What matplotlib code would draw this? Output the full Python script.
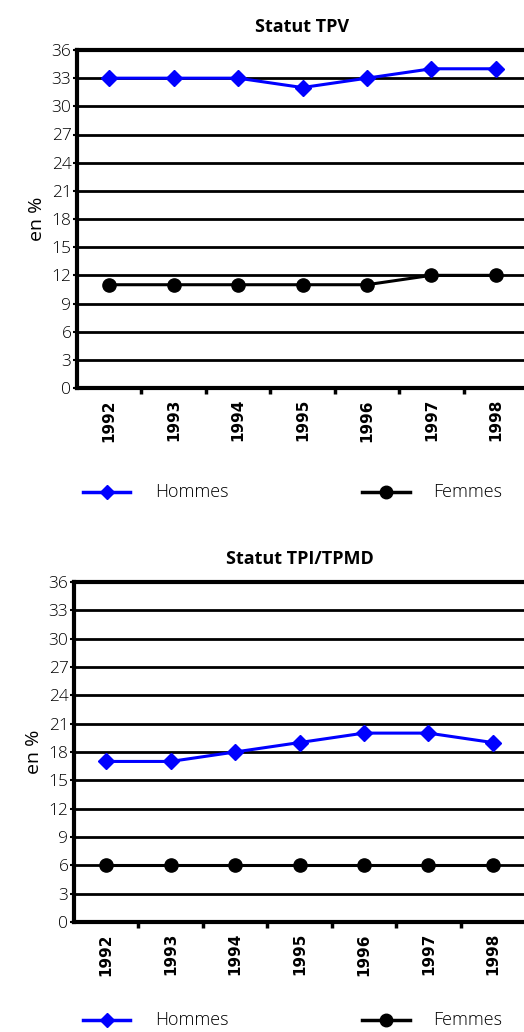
import matplotlib
matplotlib.use('Agg')
import matplotlib.pyplot as plt
from matplotlib.lines import Line2D

plt.rcParams['font.family'] = ['Open Sans', 'DejaVu Sans']

YEARS = ['1992', '1993', '1994', '1995', '1996', '1997', '1998']

TPV_HOMMES = [33, 33, 33, 32, 33, 34, 34]
TPV_FEMMES = [11, 11, 11, 11, 11, 12, 12]

TPI_HOMMES = [17, 17, 18, 19, 20, 20, 19]
TPI_FEMMES = [6, 6, 6, 6, 6, 6, 6]

Y_TICKS = list(range(0, 37, 3))

W, H = 524, 1032


def box(left, top, right, bottom):
    # pixel box -> figure fraction
    return [left / W, 1 - bottom / H, (right - left) / W, (bottom - top) / H]


def draw_panel(fig, rect, title, hommes, femmes, legend_y):
    ax = fig.add_axes(rect)
    x = list(range(len(YEARS)))
    for v in Y_TICKS[1:]:
        ax.axhline(v, color='black', lw=2.0, zorder=1)
    ax.plot(x, hommes, color='#0000ff', lw=2.2, marker='D', ms=8,
            zorder=3, clip_on=False)
    ax.plot(x, femmes, color='black', lw=2.2, marker='o', ms=9.5,
            zorder=3, clip_on=False)
    ax.set_xlim(-0.5, len(YEARS) - 0.5)
    ax.set_ylim(0, 36)
    ax.set_yticks(Y_TICKS)
    ax.set_yticklabels([str(v) for v in Y_TICKS], fontsize=12.5, fontweight='light')
    ax.tick_params(axis='y', length=3, width=1.5, pad=1)
    ax.set_xticks([i + 0.5 for i in range(len(YEARS) - 1)], minor=False)
    ax.set_xticklabels([])
    ax.tick_params(axis='x', length=4, width=2.5, direction='out')
    ax.set_xticks(x, minor=True)
    ax.set_xticklabels(YEARS, minor=True, rotation=90, fontsize=11,
                       fontweight='bold', family='DejaVu Sans Condensed')
    ax.tick_params(axis='x', which='minor', length=0, pad=8)
    ax.spines['right'].set_visible(False)
    for s in ['left', 'bottom', 'top']:
        ax.spines[s].set_linewidth(3)
    ax.set_ylabel('en %', fontsize=14, labelpad=4)
    ax.set_title(title, fontsize=13, fontweight='bold', pad=13)

    # legend drawn in figure coordinates under the panel
    ly = 1 - legend_y / H
    fig.add_artist(Line2D([83 / W, 130 / W], [ly, ly], color='#0000ff', lw=2.5,
                          transform=fig.transFigure))
    fig.add_artist(Line2D([106.5 / W], [ly], color='#0000ff', marker='D', ms=7,
                          transform=fig.transFigure))
    fig.text(155 / W, ly, 'Hommes', fontsize=13, fontweight='light', va='center')
    fig.add_artist(Line2D([362 / W, 410 / W], [ly, ly], color='black', lw=2.5,
                          transform=fig.transFigure))
    fig.add_artist(Line2D([386 / W], [ly], color='black', marker='o', ms=9,
                          transform=fig.transFigure))
    fig.text(433 / W, ly, 'Femmes', fontsize=13, fontweight='light', va='center')
    return ax


fig = plt.figure(figsize=(W / 100, H / 100), dpi=100)
draw_panel(fig, box(77, 50, 528, 388), 'Statut TPV', TPV_HOMMES, TPV_FEMMES, 492)
draw_panel(fig, box(74, 582, 525, 922), 'Statut TPI/TPMD', TPI_HOMMES, TPI_FEMMES, 1020)
fig.savefig('out.png', dpi=100)
